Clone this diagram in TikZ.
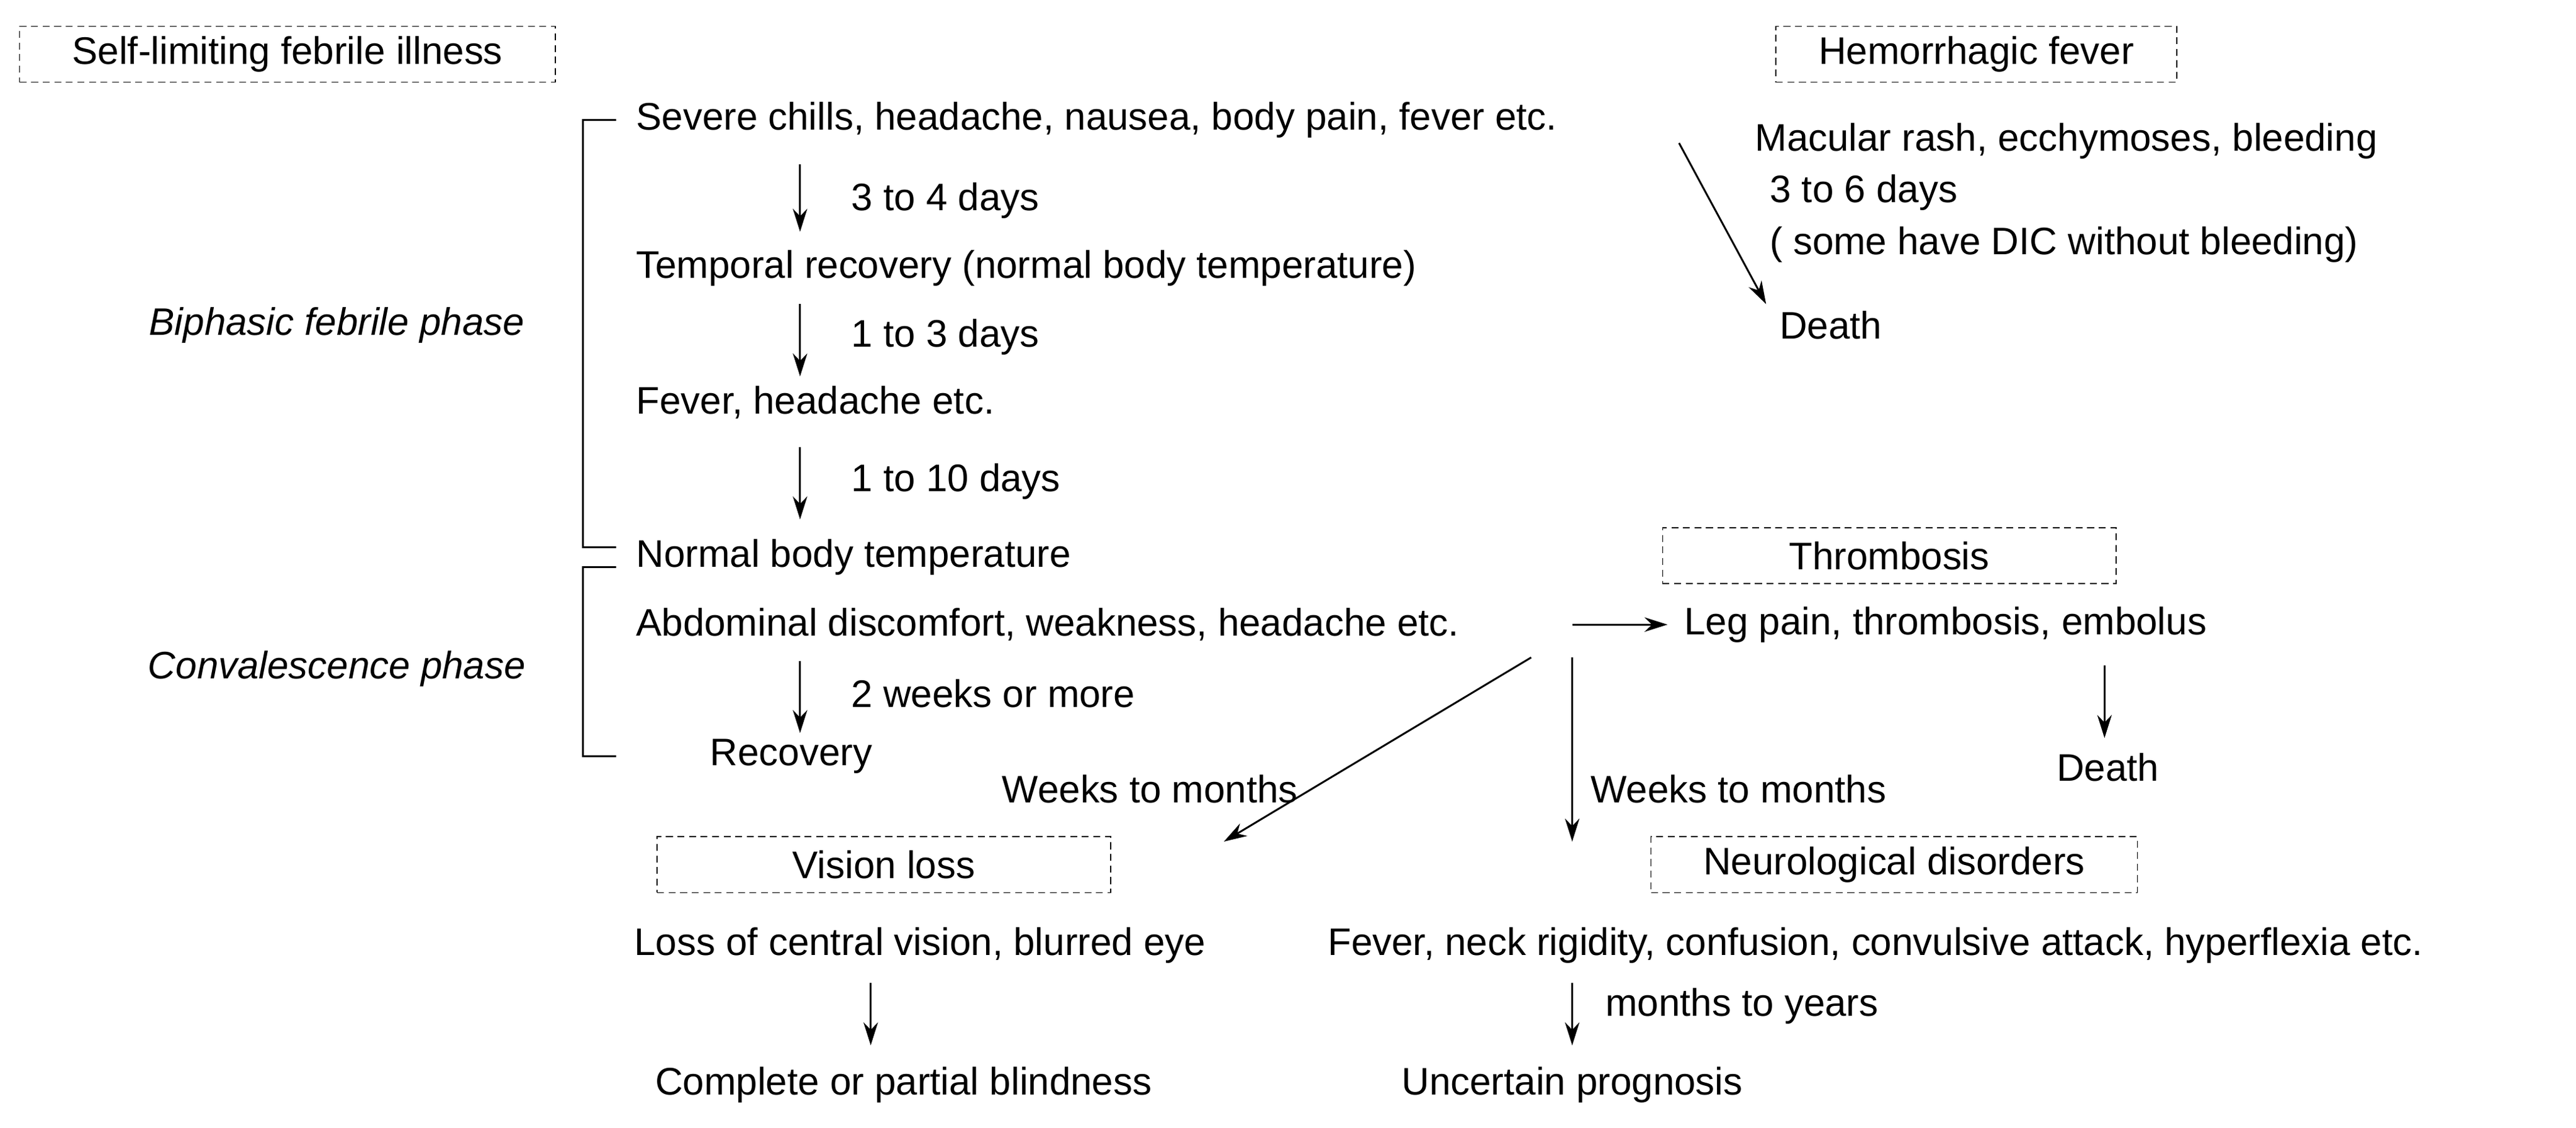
\documentclass[tikz,border=0pt]{standalone}
\usepackage{fontspec}
\setmainfont{Liberation Sans}
\usetikzlibrary{arrows.meta}
\begin{document}
\begin{tikzpicture}[
        x=0.025cm, y=-0.025cm,
        every node/.style={inner sep=0pt, font=\fontsize{16.6}{20}\selectfont},
        txt/.style={anchor=west},
        head/.style={draw, densely dashed, minimum height=0.85cm},
        arr/.style={-{Stealth[length=3.5mm, width=2.2mm]}, line width=0.8pt},
    ]
    \useasboundingbox (0,0) rectangle (1568,686);
    % headings
    \node[head, minimum width=8.15cm] (hself) at (175,33) {Self-limiting febrile illness};
    \node[head, minimum width=6.1cm] (hhem) at (1203,33) {Hemorrhagic fever};
    \node[head, minimum width=6.9cm] (hthr) at (1150,338) {Thrombosis};
    \node[head, minimum width=6.9cm] (hvis) at (538,526) {Vision loss};
    \node[head, minimum width=7.4cm] (hneu) at (1153,526) {Neurological disorders};
    % main course
    \node[txt] (severe) at (387,73) {Severe chills, headache, nausea, body pain, fever etc.};
    \node[txt] (temp) at (387,163) {Temporal recovery (normal body temperature)};
    \node[txt] (fever) at (387,245) {Fever, headache etc.};
    \node[txt] (normal) at (387,339) {Normal body temperature};
    \node[txt] (abdo) at (387,380) {Abdominal discomfort, weakness, headache etc.};
    \node[txt] (recov) at (432,460) {Recovery};
    \coordinate (a1) at (487,100); \coordinate (b1) at (487,141);
    \coordinate (a2) at (487,185); \coordinate (b2) at (487,229);
    \coordinate (a3) at (487,272); \coordinate (b3) at (487,316);
    \coordinate (a4) at (487,402); \coordinate (b4) at (487,446);
    \draw[arr] (a1) -- (b1);
    \draw[arr] (a2) -- (b2);
    \draw[arr] (a3) -- (b3);
    \draw[arr] (a4) -- (b4);
    \node[txt] at (518,122) {3 to 4 days};
    \node[txt] at (518,205) {1 to 3 days};
    \node[txt] at (518,293) {1 to 10 days};
    \node[txt] at (518,422) {2 weeks or more};
    % phases
    \draw[line width=0.8pt] (375,73) -- (355,73) -- (355,333) -- (375,333);
    \draw[line width=0.8pt] (375,345) -- (355,345) -- (355,460) -- (375,460);
    \node[font=\fontsize{16.6}{20}\selectfont\itshape] (biph) at (205,198) {Biphasic febrile phase};
    \node[font=\fontsize{16.6}{20}\selectfont\itshape] (conv) at (205,407) {Convalescence phase};
    % hemorrhagic fever
    \node[txt] (macu) at (1068,86) {Macular rash, ecchymoses, bleeding};
    \node[txt] at (1077,117) {3 to 6 days};
    \node[txt] at (1077,149) {( some have DIC without bleeding)};
    \node[txt] (death1) at (1083,198) {Death};
    \draw[arr] (1022,87) -- (1075,185);
    % thrombosis
    \node[txt] (leg) at (1025,380) {Leg pain, thrombosis, embolus};
    \draw[arr] (957,380) -- (1015,380);
    \node (death2) at (1283,467) {Death};
    \draw[arr] (1281,405) -- (1281,449);
    % late sequelae
    \draw[arr] (932,400) -- (745,512);
    \draw[arr] (957,400) -- (957,512);
    \node at (700,480) {Weeks to months};
    \node[txt] at (968,480) {Weeks to months};
    \node (vis) at (560,575) {Loss of central vision, blurred eye};
    \node[txt] (neu) at (808,575) {Fever, neck rigidity, confusion, convulsive attack, hyperflexia etc.};
    \draw[arr] (530,598) -- (530,636);
    \draw[arr] (957,598) -- (957,636);
    \node[txt] at (977,612) {months to years};
    \node (blind) at (550,660) {Complete or partial blindness};
    \node (prog) at (957,660) {Uncertain prognosis};
\end{tikzpicture}
\end{document}
